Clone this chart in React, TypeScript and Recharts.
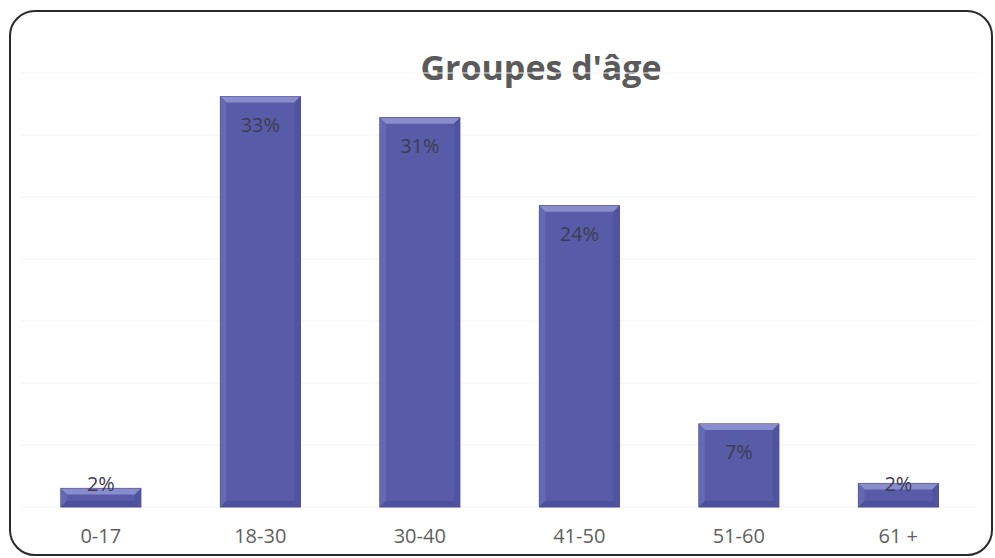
import React from 'react';
import { BarChart, Bar, XAxis, YAxis, CartesianGrid, LabelList } from 'recharts';

// Age groups and their share
const ageGroups = ['0-17', '18-30', '30-40', '41-50', '51-60', '61 +'];
const shares = [1.5, 33.1, 31.4, 24.3, 6.7, 1.9];
const shareLabels = ['2%', '33%', '31%', '24%', '7%', '2%'];
const yTicks = [0, 5, 10, 15, 20, 25, 30, 35];

const data = ageGroups.map((group, i) => ({ group, share: shares[i], label: shareLabels[i] }));

const FONT = '"Open Sans", "DejaVu Sans", sans-serif';

// Bar with an Excel-like bevel
const BevelBar = (props: any) => {
  const { x, y, width, height } = props;
  if (!height || height <= 0) return null;
  const b = Math.min(6, height / 3);
  return (
    <g>
      <rect x={x} y={y} width={width} height={height} fill="#585ca8" stroke="#44478f" strokeWidth={1} />
      <polygon points={`${x},${y} ${x + width},${y} ${x + width - b},${y + b} ${x + b},${y + b}`} fill="#8a8dcb" />
      <polygon points={`${x},${y} ${x + b},${y + b} ${x + b},${y + height - b} ${x},${y + height}`} fill="#6569b3" />
      <polygon points={`${x + width},${y} ${x + width},${y + height} ${x + width - b},${y + height - b} ${x + width - b},${y + b}`} fill="#5054a0" />
      <polygon points={`${x},${y + height} ${x + b},${y + height - b} ${x + width - b},${y + height - b} ${x + width},${y + height}`} fill="#4d509c" />
    </g>
  );
};

const renderLabel = (props: any) => {
  const { x, y, width, height, value } = props;
  const cy = Math.min(y + 28, y + height - 24);
  return (
    <text
      x={x + width / 2}
      y={cy}
      textAnchor="middle"
      dominantBaseline="central"
      fontFamily={FONT}
      fontSize={20}
      fill="#3c3c50"
    >
      {value}
    </text>
  );
};

export default function App() {
  return (
    <div style={{ position: 'absolute', left: 0, top: 0, width: 995, height: 558, background: '#fff' }}>
      <div
        style={{
          position: 'absolute',
          left: 9,
          top: 10,
          width: 980,
          height: 542,
          border: '2px solid #2a2a2a',
          borderRadius: 26,
        }}
      />
      <div
        style={{
          position: 'absolute',
          left: 0,
          width: 1082,
          top: 44,
          textAlign: 'center',
          fontFamily: FONT,
          fontWeight: 700,
          fontSize: 34,
          color: '#5a5a5a',
        }}
      >
        Groupes d'âge
      </div>
      <div style={{ position: 'absolute', left: 0, top: 0 }}>
        <BarChart
          width={995}
          height={558}
          data={data}
          margin={{ top: 73, right: 17, bottom: 11, left: 21 }}
          barCategoryGap="25%"
        >
          <CartesianGrid vertical={false} stroke="#f4f4f4" />
          <XAxis
            dataKey="group"
            axisLine={false}
            tickLine={false}
            tickMargin={16}
            height={40}
            tick={{ fill: '#5f5f5f', fontSize: 20, fontFamily: FONT }}
          />
          <YAxis hide domain={[0, 35]} ticks={yTicks} />
          <Bar dataKey="share" shape={<BevelBar />} isAnimationActive={false}>
            <LabelList dataKey="label" content={renderLabel} />
          </Bar>
        </BarChart>
      </div>
    </div>
  );
}
